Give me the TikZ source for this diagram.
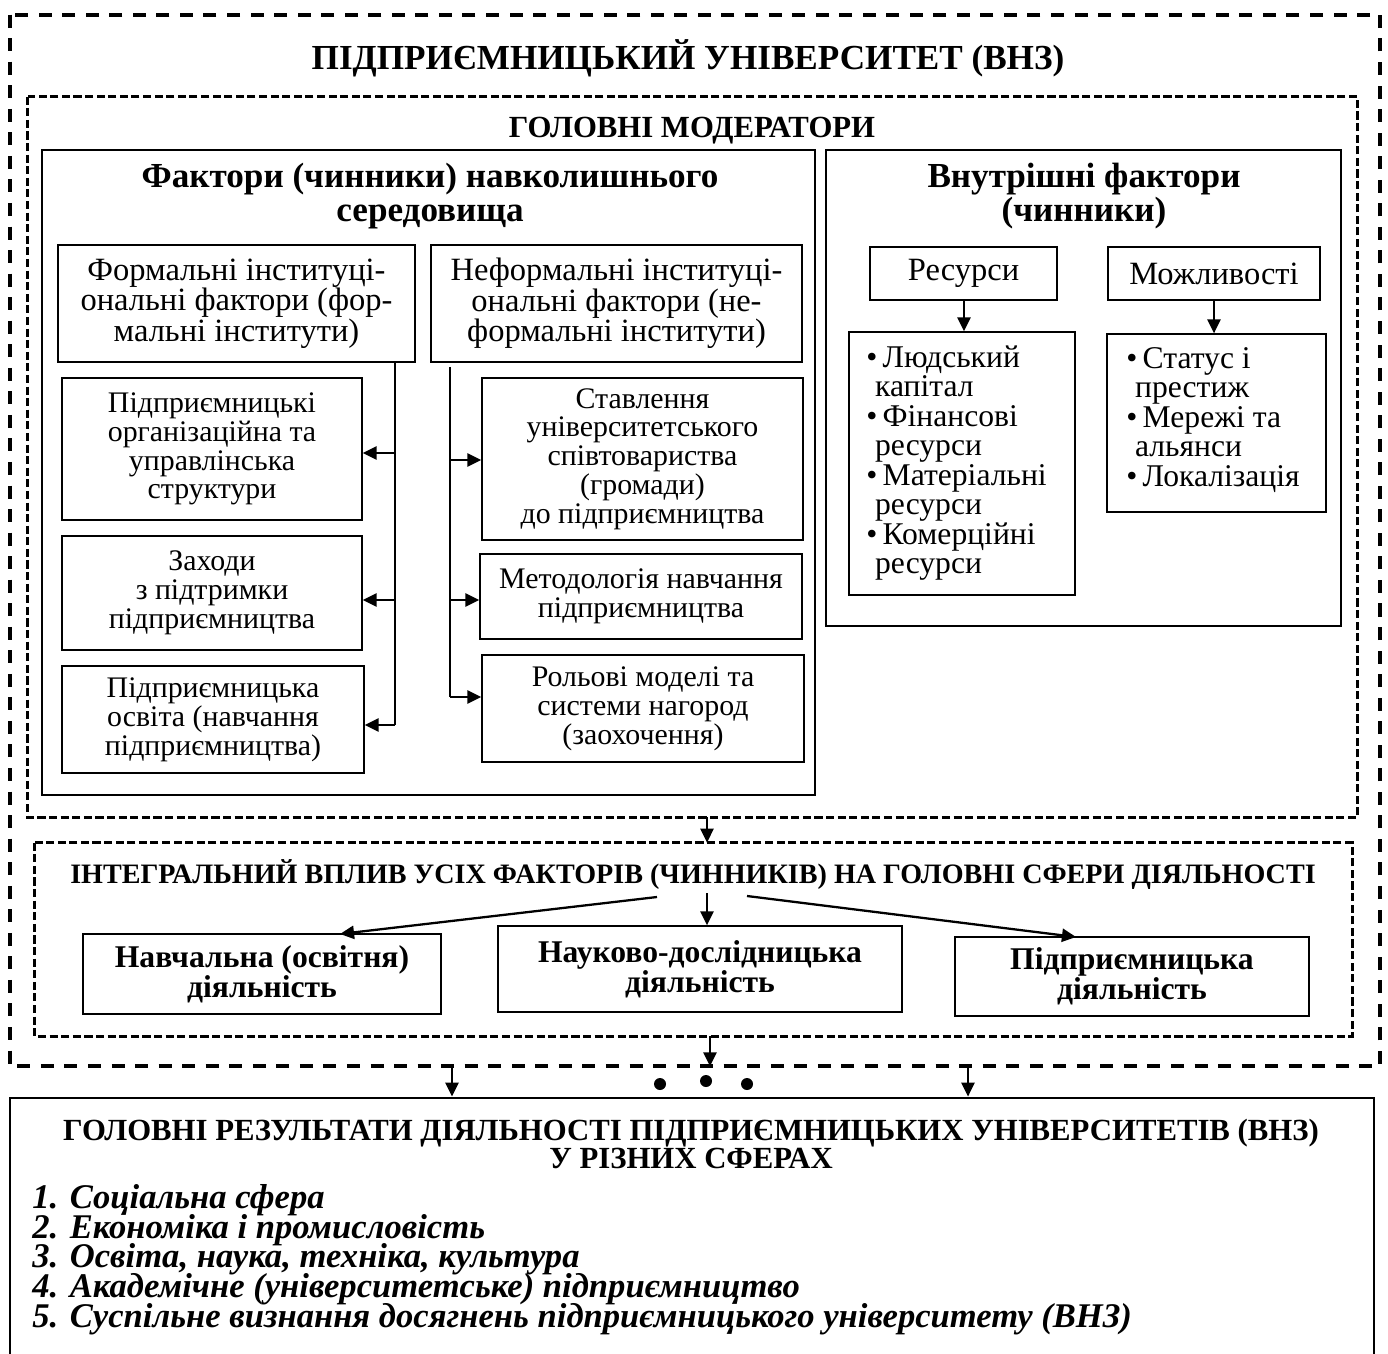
\documentclass[tikz,border=0pt]{standalone}
\usepackage{fontspec}
\setmainfont{Liberation Serif}
\usetikzlibrary{arrows.meta,fit}
\newcommand\tightlines{\lineskiplimit=-30pt\relax}
\tikzset{
  outerdash/.style={line width=2.2pt, dash pattern=on 7.4pt off 6pt},
  innerdash/.style={line width=1.9pt, dash pattern=on 4.6pt off 2pt},
  box/.style={draw, line width=0.75pt, inner sep=0pt},
  resbox/.style={draw, line width=1.6pt, inner sep=0pt},
  frame/.style={inner sep=0pt},
  inst/.style={font=\fontsize{18.5}{17.3}\selectfont\tightlines, align=center, inner sep=0pt},
  norm/.style={font=\fontsize{17}{16.4}\selectfont\tightlines, align=center, inner sep=0pt},
  bullist/.style={font=\fontsize{18}{16.8}\selectfont\tightlines, align=left, inner sep=0pt, anchor=north west},
  head/.style={font=\fontsize{20}{19.8}\selectfont\bfseries\tightlines, align=center, inner sep=0pt},
  act/.style={font=\fontsize{18}{17.3}\selectfont\bfseries\tightlines, align=center, inner sep=0pt},
  items/.style={font=\fontsize{19.7}{16.9}\selectfont\bfseries\itshape\tightlines, align=left, anchor=north west, inner sep=0pt},
  bus/.style={line width=1.3pt},
  arr/.style={line width=1.3pt, -{Triangle[length=8pt,width=7.5pt]}},
}
\begin{document}
\begin{tikzpicture}[x=0.02cm,y=-0.02cm]
\useasboundingbox (0,0) rectangle (1388,1354);
\begin{scope}
\clip (0,0) rectangle (1388,1354);
% outer dashed
\node[frame, fit={(10,15) (1380,1066)}] (outer) {};
\draw[outerdash] (outer.north west) rectangle (outer.south east);
\node[font=\fontsize{20}{22}\selectfont\bfseries, inner sep=0pt] (title) at (688,58) {ПІДПРИЄМНИЦЬКИЙ УНІВЕРСИТЕТ (ВНЗ)};

% moderators dashed
\node[frame, fit={(28,97) (1357,817)}] (mod) {};
\draw[innerdash] (mod.north west) rectangle (mod.south east);
\node[font=\fontsize{17.5}{19}\selectfont\bfseries, inner sep=0pt] (modt) at (692,131) {ГОЛОВНІ МОДЕРАТОРИ};

% external factors
\node[box, fit={(42,150) (815,795)}] (ext) {};
\node[head] (extt) at (430,196) {Фактори (чинники) навколишнього\\середовища};

% internal factors
\node[box, fit={(826,150) (1341,626)}] (int) {};
\node[head] (intt) at (1084,196) {Внутрішні фактори\\(чинники)};

% formal / informal
\node[box, fit={(58,245) (415,362)}] (formal) {};
\node[inst] at (formal.center) {Формальні інституці-\\ональні фактори (фор-\\мальні інститути)};
\node[box, fit={(431,245) (802,362)}] (informal) {};
\node[inst] at (informal.center) {Неформальні інституці-\\ональні фактори (не-\\формальні інститути)};

% left column
\node[box, fit={(62,378) (362,520)}] (b1) {};
\node[norm] at (b1.center) {Підприємницькі\\організаційна та\\управлінська\\структури};
\node[box, fit={(62,536) (362,650)}] (b2) {};
\node[norm] at (b2.center) {Заходи\\з підтримки\\підприємництва};
\node[box, fit={(62,666) (364,773)}] (b3) {};
\node[norm] at (b3.center) {Підприємницька\\освіта (навчання\\підприємництва)};

% right column
\node[box, fit={(482,378) (803,540)}] (c1) {};
\node[norm] at (c1.center) {Ставлення\\університетського\\співтовариства\\(громади)\\до підприємництва};
\node[box, fit={(480,554) (802,639)}] (c2) {};
\node[norm] at (c2.center) {Методологія навчання\\підприємництва};
\node[box, fit={(482,655) (804,762)}] (c3) {};
\node[norm] at (c3.center) {Рольові моделі та\\системи нагород\\(заохочення)};

% buses
\coordinate (fb) at (395,362);
\coordinate (fe) at (395,725);
\draw[bus] (fb) -- (fe);
\draw[arr] (395,453) -- (b1.east |- 0,453);
\draw[arr] (395,600) -- (b2.east |- 0,600);
\draw[arr] (fe) -- (b3.east |- fe);
\coordinate (ib) at (450,367);
\coordinate (ie) at (450,697);
\draw[bus] (ib) -- (ie);
\draw[arr] (450,460) -- (c1.west |- 0,460);
\draw[arr] (450,600) -- (c2.west |- 0,600);
\draw[arr] (ie) -- (c3.west |- ie);

% resources
\node[box, fit={(870,247) (1057,300)}] (res) {};
\node[font=\fontsize{18.5}{20}\selectfont] at (res.center) {Ресурси};
\node[box, fit={(1108,247) (1320,300)}] (opp) {};
\node[font=\fontsize{18.5}{20}\selectfont] at (opp.center) {Можливості};
\node[box, fit={(849,332) (1075,595)}] (resl) {};
\node[bullist] at (866,345) {•\,Людський\\\hspace{5pt}капітал\\•\,Фінансові\\\hspace{5pt}ресурси\\•\,Матеріальні\\\hspace{5pt}ресурси\\•\,Комерційні\\\hspace{5pt}ресурси};
\node[box, fit={(1107,334) (1326,512)}] (oppl) {};
\node[bullist] at (1126,347) {•\,Статус і\\\hspace{5pt}престиж\\•\,Мережі та\\\hspace{5pt}альянси\\•\,Локалізація};
\draw[arr] (res.south -| 964,0) -- (resl.north -| 964,0);
\draw[arr] (opp.south -| 1214,0) -- (oppl.north -| 1214,0);

% integral
\node[frame, fit={(35,843) (1352,1036)}] (integ) {};
\draw[innerdash] (integ.north west) rectangle (integ.south east);
\draw[arr] (mod.south -| 707,0) -- (integ.north -| 707,0);
\node[font=\fontsize{16}{19}\selectfont\bfseries, inner sep=0pt] (integt) at (693,875) {ІНТЕГРАЛЬНИЙ ВПЛИВ УСІХ ФАКТОРІВ (ЧИННИКІВ) НА ГОЛОВНІ СФЕРИ ДІЯЛЬНОСТІ};
\node[box, fit={(83,934) (441,1014)}] (d1) {};
\node[act] at (d1.center) {Навчальна (освітня)\\діяльність};
\node[box, fit={(498,926) (902,1012)}] (d2) {};
\node[act] at (d2.center) {Науково-дослідницька\\діяльність};
\node[box, fit={(955,937) (1309,1016)}] (d3) {};
\node[act] at (d3.center) {Підприємницька\\діяльність};
\coordinate (s1) at (657,897);
\coordinate (s2) at (707,893);
\coordinate (s3) at (747,896);
\draw[arr] (s1) -- (340,934);
\draw[arr] (s2) -- (d2.north -| s2);
\draw[arr] (s3) -- (1076,937);
\draw[arr] (integ.south -| 710,0) -- (outer.south -| 710,0);

% results
\node[resbox, fit={(10,1098) (1374,1400)}] (results) {};
\draw[arr] (outer.south -| 452,0) -- (results.north -| 452,0);
\draw[arr] (outer.south -| 968,0) -- (results.north -| 968,0);
\fill (660,1084) circle (6);
\fill (706,1081) circle (6);
\fill (747,1084) circle (6);
\node[font=\fontsize{17.5}{16}\selectfont\bfseries\tightlines, align=center, inner sep=0pt] (rest) at (691,1144) {ГОЛОВНІ РЕЗУЛЬТАТИ ДІЯЛЬНОСТІ ПІДПРИЄМНИЦЬКИХ УНІВЕРСИТЕТІВ (ВНЗ)\\У РІЗНИХ СФЕРАХ};
\node[items] (list) at (32,1184) {1. Соціальна сфера\\2. Економіка і промисловість\\3. Освіта, наука, техніка, культура\\4. Академічне (університетське) підприємництво\\5. Суспільне визнання досягнень підприємницького університету (ВНЗ)};
\end{scope}
\end{tikzpicture}
\end{document}
